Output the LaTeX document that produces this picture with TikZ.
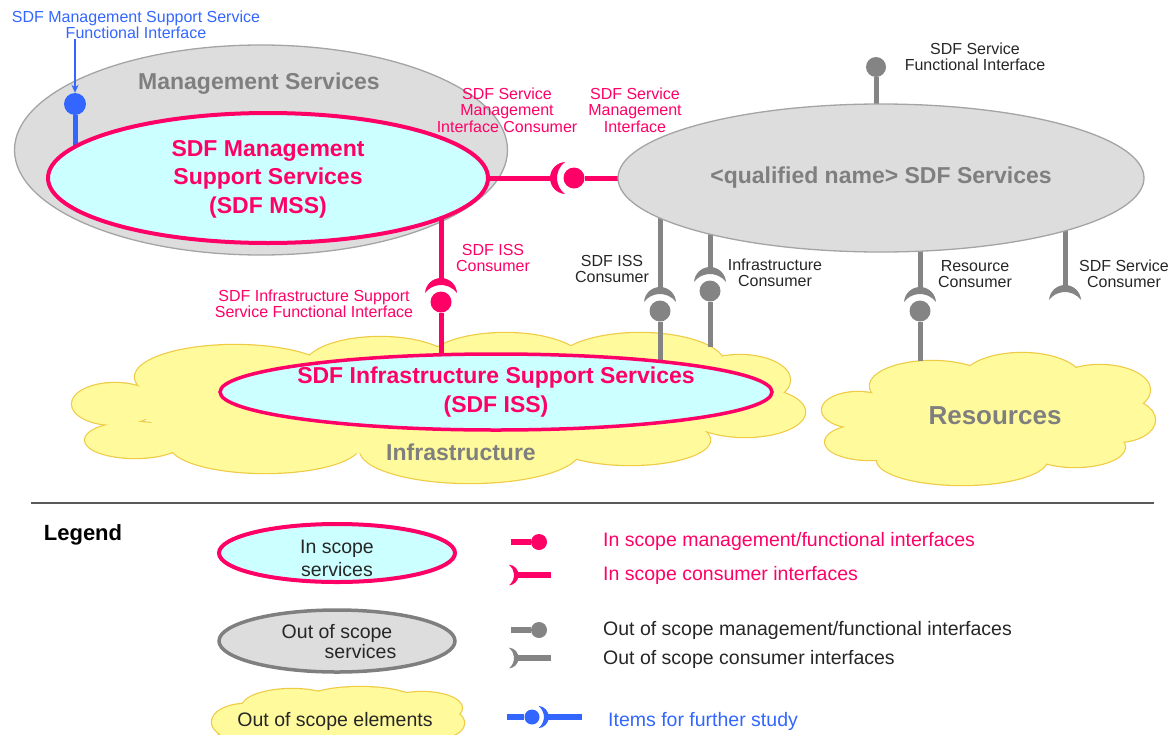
\documentclass[tikz,border=0pt]{standalone}
\usepackage{fontspec}
\setmainfont{Liberation Sans}
\usetikzlibrary{shapes.geometric,arrows.meta}

\definecolor{pinkc}{HTML}{FF0066}
\definecolor{cyanfill}{HTML}{CCFFFF}
\definecolor{grayfill}{HTML}{DDDDDD}
\definecolor{grayline}{HTML}{A4A4A4}
\definecolor{graytxt}{HTML}{7F7F7F}
\definecolor{graycon}{HTML}{848484}
\definecolor{grayedge}{HTML}{7F7F7F}
\definecolor{cloudfill}{HTML}{FFFB9C}
\definecolor{cloudline}{HTML}{EFCB45}
\definecolor{bluec}{HTML}{3366FF}
\definecolor{darktxt}{HTML}{262626}
\definecolor{rulec}{HTML}{5A5A5A}

\newcommand{\setfs}[2]{\fontsize{#1}{#2}\selectfont}
% crescent-shaped socket; #1 position of the ball it receives, #2 rotation,
% #3 scale, #4 colour (the cup lies on the local -x side)
\newcommand{\sockcup}[4]{%
  \fill[#4,shift={#1},rotate=#2,scale=#3] (-9,16)
    arc[start angle=93.7,end angle=266.3,radius=16.03]
    arc[start angle=233.13,end angle=126.87,radius=20] -- cycle;}

\pgfdeclarelayer{back}
\pgfdeclarelayer{wires}
\pgfsetlayers{back,wires,main}

\begin{document}
\begin{tikzpicture}[x=1pt,y=-1pt,
  svc/.style={ellipse,inner sep=0pt,outer sep=0pt},
  insvc/.style={svc,draw=pinkc,fill=cyanfill,line width=4pt},
  outsvc/.style={svc,draw=grayline,fill=grayfill,line width=1.3pt},
  pinkwire/.style={draw=pinkc,line width=5pt},
  graywire/.style={draw=graycon,line width=5pt},
  bluewire/.style={draw=bluec,line width=5pt},
  ball/.style={circle,fill=#1,inner sep=0pt,minimum size=21pt},
  bigtxt/.style={font=\bfseries\setfs{23}{28.5},align=center,inner sep=0pt},
  lbl/.style={font=\setfs{16}{16.5},align=center,inner sep=0pt},
  legtxt/.style={font=\setfs{19.5}{23},inner sep=0pt},
  cloudedge/.style={draw=cloudline,line width=2.4pt,fill=cloudfill},
]
\useasboundingbox (0,0) rectangle (1175,734);

% ---------- background: management domain and clouds ----------
\begin{pgfonlayer}{back}
  \node[outsvc,minimum width=493,minimum height=210] (mgmt) at (261,150) {};
  % Infrastructure cloud (union of puffs)
  \foreach \cx/\cy/\rx/\ry in {115/404/43/21,135/440/50/18,235/377/100/32,
      380/366/75/29,505/364/80/31,640/365/85/32,740/380/50/25,745/412/60/25,
      630/440/80/25,470/450/110/33,265/445/95/28}
    \draw[cloudedge] (\cx,\cy) ellipse[x radius=\rx,y radius=\ry];
  \foreach \cx/\cy/\rx/\ry in {115/404/43/21,135/440/50/18,235/377/100/32,
      380/366/75/29,505/364/80/31,640/365/85/32,740/380/50/25,745/412/60/25,
      630/440/80/25,470/450/110/33,265/445/95/28,440/410/300/45}
    \fill[cloudfill] (\cx,\cy) ellipse[x radius=\rx,y radius=\ry];
  % Resources cloud
  \foreach \cx/\cy/\rx/\ry in {858/410/36/18,870/442/45/18,932/386/62/25,
      1022/380/60/27,1100/390/50/25,1117/420/38/22,1075/447/50/20,962/460/85/25}
    \draw[cloudedge] (\cx,\cy) ellipse[x radius=\rx,y radius=\ry];
  \foreach \cx/\cy/\rx/\ry in {858/410/36/18,870/442/45/18,932/386/62/25,
      1022/380/60/27,1100/390/50/25,1117/420/38/22,1075/447/50/20,962/460/85/25,
      990/420/125/38}
    \fill[cloudfill] (\cx,\cy) ellipse[x radius=\rx,y radius=\ry];
  % legend cloud
  \begin{scope}
    \clip (0,0) rectangle (1175,734);
    \foreach \cx/\cy/\rx/\ry in {245/722/33/18,292/707/50/18,360/702/57/15,
        422/708/40/16,442/723/22/14,337/745/125/30}
      \draw[cloudedge] (\cx,\cy) ellipse[x radius=\rx,y radius=\ry];
    \foreach \cx/\cy/\rx/\ry in {245/722/33/18,292/707/50/18,360/702/57/15,
        422/708/40/16,442/723/22/14,337/745/125/30}
      \fill[cloudfill] (\cx,\cy) ellipse[x radius=\rx,y radius=\ry];
  \end{scope}
\end{pgfonlayer}

\coordinate (ct4) at (710,347);
\coordinate (ct5) at (920,361);

% ---------- services ----------
\node[insvc,minimum width=440,minimum height=130] (mss) at (268,178) {};
\node[outsvc,minimum width=526,minimum height=148] (sdf) at (881,178) {};
\node[insvc,line width=3.5pt,minimum width=552,minimum height=76] (iss) at (496,392) {};

\node[bigtxt,text=graytxt] (mgmttxt) at (259,84) {Management Services};
\node[bigtxt,text=pinkc] (msstxt) at (268,179) {SDF Management\\Support Services\\(SDF MSS)};
\node[bigtxt,text=graytxt] (sdftxt) at (881,178) {<qualified name> SDF Services};
\node[bigtxt,text=pinkc,font=\bfseries\setfs{23}{29}] (isstxt) at (496,392) {SDF Infrastructure Support Services\\(SDF ISS)};
\node[bigtxt,text=graytxt] (infratxt) at (461,452) {Infrastructure};
\node[bigtxt,text=graytxt,font=\bfseries\setfs{26}{30}] (restxt) at (995,416) {Resources};

% ---------- interface balls and sockets ----------
\node[ball=pinkc] (b1) at (574,178) {};
\node[ball=pinkc] (b2) at (441,302) {};
\node[ball=graycon] (b3) at (660,311) {};
\node[ball=graycon] (b4) at (710,291) {};
\node[ball=graycon] (b5) at (920,311) {};
\node[ball=graycon,minimum size=20pt] (bt) at (876,67) {};
\node[ball=bluec,minimum size=22pt] (bb) at (75,104) {};
\coordinate (v6) at (1065,309);

\sockcup{(b1)}{0}{1}{pinkc}
\sockcup{(b2)}{-90}{1}{pinkc}
\sockcup{(b3)}{-90}{1}{graycon}
\sockcup{(b4)}{-90}{1}{graycon}
\sockcup{(b5)}{-90}{1}{graycon}
\sockcup{(v6)}{-90}{1}{graycon}

\coordinate (k1) at (552,178);
\coordinate (k2) at (441,280);
\coordinate (k3) at (660,289);
\coordinate (k4) at (710,269);
\coordinate (k5) at (920,289);
\coordinate (k6) at (1065,287);

\begin{pgfonlayer}{wires}
  \draw[bluewire] (bb) -- (bb |- mss.center);
  \draw[pinkwire] (mss.center) -- (k1);
  \draw[pinkwire] (b1) -- (sdf.center);
  \draw[pinkwire] (k2 |- mss.center) -- (k2);
  \draw[pinkwire] (b2) -- (b2 |- iss.center);
  \draw[graywire] (bt) -- (bt |- sdf.center);
  \draw[graywire] (k3 |- sdf.center) -- (k3);
  \draw[graywire] (b3) -- (b3 |- iss.center);
  \draw[graywire] (k4 |- sdf.center) -- (k4);
  \draw[graywire] (b4) -- (ct4);
  \draw[graywire] (k5 |- sdf.center) -- (k5);
  \draw[graywire] (b5) -- (ct5);
  \draw[graywire] (k6 |- sdf.center) -- (k6);
\end{pgfonlayer}

% ---------- interface labels ----------
\node[lbl,text=bluec] (bluelbl) at (136,25) {SDF Management Support Service\\Functional Interface};
\draw[draw=bluec,line width=1.5pt,-{Stealth[length=8pt,width=7pt]}] (bb |- bluelbl.south) -- (bb.north);
\node[lbl,text=pinkc] (l1) at (507,110) {SDF Service\\Management\\Interface Consumer};
\node[lbl,text=pinkc] (l2) at (635,110) {SDF Service\\Management\\Interface};
\node[lbl,text=pinkc] (l3) at (493,258) {SDF ISS\\Consumer};
\node[lbl,text=pinkc] (l4) at (314,304) {SDF Infrastructure Support\\Service Functional Interface};
\node[lbl,text=darktxt] (l5) at (975,57) {SDF Service\\Functional Interface};
\node[lbl,text=darktxt] (l6) at (612,269) {SDF ISS\\Consumer};
\node[lbl,text=darktxt] (l7) at (775,273) {Infrastructure\\Consumer};
\node[lbl,text=darktxt] (l8) at (975,274) {Resource\\Consumer};
\node[lbl,text=darktxt] (l9) at (1124,274) {SDF Service\\Consumer};

% ---------- legend ----------
\coordinate (rulel) at (31,503);
\coordinate (ruler) at (1154,503);
\draw[draw=rulec,line width=2pt] (rulel) -- (ruler);
\node[font=\bfseries\setfs{22}{26},inner sep=0pt] (legend) at (83,535) {Legend};

\node[insvc,minimum width=236,minimum height=58] (lin) at (337,553) {};
\node[legtxt,align=center,text=darktxt] (lintxt) at (337,558) {In scope\\services};
\node[svc,draw=grayedge,fill=grayfill,line width=3.5pt,minimum width=236,minimum height=62] (lout) at (337,641) {};
\node[legtxt,align=left,text=darktxt,font=\setfs{19.5}{20}] (louttxt) at (339,642) {Out of scope\\\hspace*{43pt}services};
\node[legtxt,text=darktxt] (lcloudtxt) at (335,721) {Out of scope elements};

% legend symbols
\coordinate (m1a) at (511,542);
\node[ball=pinkc,minimum size=16pt] (m1b) at (539,542) {};
\draw[pinkwire,line width=6pt] (m1a) -- (m1b);
\coordinate (c1v) at (503,575);
\coordinate (c1a) at (517,575);
\coordinate (c1b) at (551,575);
\sockcup{(c1v)}{180}{0.65}{pinkc}
\draw[pinkwire,line width=6pt] (c1a) -- (c1b);

\coordinate (m2a) at (511,630);
\node[ball=graycon,minimum size=16pt] (m2b) at (539,630) {};
\draw[graywire,line width=6pt] (m2a) -- (m2b);
\coordinate (c2v) at (503,658);
\coordinate (c2a) at (517,658);
\coordinate (c2b) at (551,658);
\sockcup{(c2v)}{180}{0.65}{graycon}
\draw[graywire,line width=6pt] (c2a) -- (c2b);

\coordinate (f1a) at (507,717);
\node[ball=bluec,minimum size=15pt] (f1b) at (532,717) {};
\draw[bluewire,line width=6pt] (f1a) -- (f1b);
\sockcup{(f1b)}{180}{0.7}{bluec}
\coordinate (f1c) at (547,717);
\coordinate (f1d) at (582,717);
\draw[bluewire,line width=6pt] (f1c) -- (f1d);

\node[legtxt,anchor=west,text=pinkc] (lt1) at (603,541) {In scope management/functional interfaces};
\node[legtxt,anchor=west,text=pinkc] (lt2) at (603,575) {In scope consumer interfaces};
\node[legtxt,anchor=west,text=darktxt] (lt3) at (603,630) {Out of scope management/functional interfaces};
\node[legtxt,anchor=west,text=darktxt] (lt4) at (603,659) {Out of scope consumer interfaces};
\node[legtxt,anchor=west,text=bluec] (lt5) at (608,721) {Items for further study};
\end{tikzpicture}
\end{document}
